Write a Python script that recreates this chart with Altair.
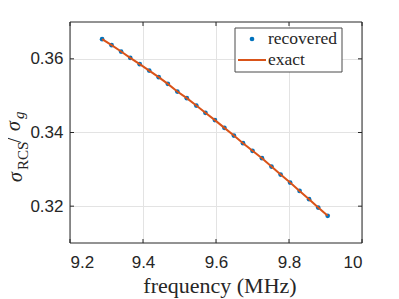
import altair as alt
import pandas as pd

# ---------------- data ----------------
freq = [9.288, 9.314, 9.340, 9.365, 9.391, 9.417, 9.443, 9.468, 9.494, 9.520,
        9.546, 9.571, 9.597, 9.623, 9.649, 9.674, 9.700, 9.726, 9.752, 9.777,
        9.803, 9.829, 9.855, 9.880, 9.906]
recovered = [0.36535, 0.36372, 0.36198, 0.36027, 0.35856, 0.35682, 0.35503, 0.35321,
             0.35112, 0.34933, 0.34732, 0.34534, 0.34336, 0.34126, 0.33917, 0.33711,
             0.33502, 0.33303, 0.33075, 0.32858, 0.32641, 0.32415, 0.32190, 0.31962,
             0.31737]
exact = [0.36535, 0.36370, 0.36199, 0.36027, 0.35855, 0.35681, 0.35503, 0.35320,
         0.35114, 0.34932, 0.34733, 0.34534, 0.34336, 0.34126, 0.33917, 0.33711,
         0.33502, 0.33301, 0.33076, 0.32858, 0.32641, 0.32415, 0.32190, 0.31963,
         0.31737]
x_ticks = [9.2, 9.4, 9.6, 9.8, 10.0]
y_ticks = [0.32, 0.34, 0.36]
legend_labels = ["recovered", "exact"]
x_title = "frequency (MHz)"

# ---------------- style ----------------
W, H = 292, 221
INK = "#262626"
BLUE = "#0072BD"
ORANGE = "#D95319"
GRID = "#e3e3e3"
SANS = "Liberation Sans"
SERIF = "Liberation Serif"

df = pd.DataFrame({"f": freq, "rec": recovered, "exact": exact})
xt = pd.DataFrame({"t": x_ticks})
yt = pd.DataFrame({"t": y_ticks})
one = alt.Data(values=[{}])

xs = alt.Scale(domain=[9.2, 10.0], nice=False, zero=False)
ys = alt.Scale(domain=[0.31, 0.37], nice=False, zero=False)

xaxis = alt.Axis(values=x_ticks, format=".1~f", grid=True, gridColor=GRID, ticks=False,
                 domain=False, labelFont=SANS, labelFontSize=17, labelColor=INK,
                 labelPadding=11, title=None)
yaxis = alt.Axis(values=y_ticks, format=".2f", grid=True, gridColor=GRID, ticks=False,
                 domain=False, labelFont=SANS, labelFontSize=17, labelColor=INK,
                 labelPadding=7, title=None)

pts = alt.Chart(df).mark_circle(size=22, color=BLUE, opacity=1).encode(
    x=alt.X("f:Q", scale=xs, axis=xaxis, title=None),
    y=alt.Y("rec:Q", scale=ys, axis=yaxis, title=None),
)
line = alt.Chart(df).mark_line(color=ORANGE, strokeWidth=2).encode(
    x=alt.X("f:Q", title=None), y=alt.Y("exact:Q", title=None)
)

# inward ticks on all four sides
tk = dict(color=INK, strokeWidth=1)
tx_top = alt.Chart(xt).mark_rule(**tk).encode(x=alt.X("t:Q", title=None), y=alt.value(0), y2=alt.value(4))
tx_bot = alt.Chart(xt).mark_rule(**tk).encode(x=alt.X("t:Q", title=None), y=alt.value(H), y2=alt.value(H - 4))
ty_l = alt.Chart(yt).mark_rule(**tk).encode(y=alt.Y("t:Q", title=None), x=alt.value(0), x2=alt.value(4))
ty_r = alt.Chart(yt).mark_rule(**tk).encode(y=alt.Y("t:Q", title=None), x=alt.value(W), x2=alt.value(W - 4))

frame = alt.Chart(one).mark_rect(fillOpacity=0, stroke=INK, strokeWidth=1).encode(
    x=alt.value(0), x2=alt.value(W), y=alt.value(0), y2=alt.value(H)
)

# legend
leg_box = alt.Chart(one).mark_rect(fill="white", stroke="#4a4a4a", strokeWidth=1).encode(
    x=alt.value(165), x2=alt.value(272), y=alt.value(6), y2=alt.value(50)
)
leg_dot = alt.Chart(one).mark_circle(size=22, color=BLUE, opacity=1).encode(
    x=alt.value(182), y=alt.value(17)
)
leg_line = alt.Chart(one).mark_rule(color=ORANGE, strokeWidth=2).encode(
    x=alt.value(168), x2=alt.value(196), y=alt.value(38)
)
leg_t1 = alt.Chart(one).mark_text(text=legend_labels[0], font=SERIF, fontSize=17.5, color=INK,
                                  align="left", baseline="alphabetic").encode(
    x=alt.value(198), y=alt.value(22))
leg_t2 = alt.Chart(one).mark_text(text=legend_labels[1], font=SERIF, fontSize=17.5, color=INK,
                                  align="left", baseline="alphabetic").encode(
    x=alt.value(198), y=alt.value(42.5))

# x title
xtitle = alt.Chart(one).mark_text(text=x_title, font=SERIF, fontSize=22, color=INK,
                                  align="center", baseline="alphabetic").encode(
    x=alt.value(150), y=alt.value(271))

# y title: sigma_RCS / sigma_g, rotated
def ypiece(txt, x, y, size, italic):
    kw = dict(text=txt, font=SERIF, fontSize=size, color=INK, angle=270,
              align="left", baseline="alphabetic")
    if italic:
        kw["fontStyle"] = "italic"
    return alt.Chart(one).mark_text(**kw).encode(x=alt.value(x), y=alt.value(y))

yt1 = ypiece("σ", -48, 160, 20, True)
yt2 = ypiece("RCS", -42, 148, 15, False)
yt3 = ypiece("/", -49, 121, 20, False)
yt4 = ypiece("σ", -50, 109, 20, True)
yt5 = ypiece("g", -46, 97, 15, True)

chart = alt.layer(
    pts, line, tx_top, tx_bot, ty_l, ty_r, frame,
    leg_box, leg_dot, leg_line, leg_t1, leg_t2,
    xtitle, yt1, yt2, yt3, yt4, yt5,
).properties(
    width=W, height=H,
    padding={"left": 62, "top": 14, "right": 25, "bottom": 55},
    autosize=alt.AutoSizeParams(type="none"),
    background="white",
).configure_view(strokeWidth=0)

chart.save("out.html", embed_options={"renderer": "svg", "actions": False})
